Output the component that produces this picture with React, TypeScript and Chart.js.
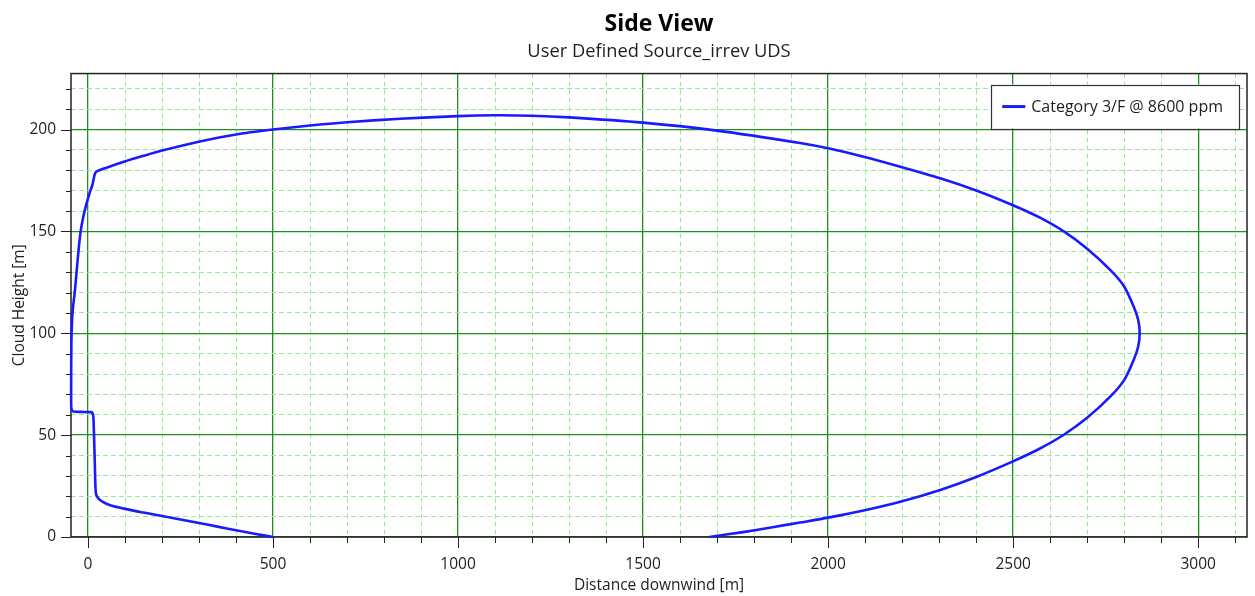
import React, { useEffect, useRef } from 'react';
import { Chart, registerables } from 'chart.js';

Chart.register(...registerables);

const TITLE = 'Side View';
const SUBTITLE = 'User Defined Source_irrev UDS';
const SERIES_LABEL = 'Category 3/F @ 8600 ppm';
const X_TITLE = 'Distance downwind [m]';
const Y_TITLE = 'Cloud Height [m]';

// Cloud contour, distance downwind [m]
const distance = [
  500, 450, 400, 350, 300, 250, 200, 150, 100, 60, 40, 28, 22,
  20, 18.5, 17, 15, 14, 11, 8, -20, -40, -44, -45.5, -45.5, -45, -43.5, -41, -36, -31, -26, -20, -13, -5, 4, 12, 18, 22.7,
  50, 99, 150, 200, 302, 400, 500, 600, 700, 843, 1000, 1100, 1200, 1300, 1500, 1700, 1924, 2000, 2096, 2195,
  2303, 2402, 2498, 2570, 2637, 2700, 2763, 2800, 2826, 2838, 2842, 2838, 2826, 2800, 2763, 2700, 2637, 2570,
  2498, 2402, 2303, 2195, 2096, 2000, 1924, 1850, 1770, 1679,
];
// Cloud contour, height [m]
const cloudHeight = [
  0, 1.6, 3.3, 5.1, 6.9, 8.6, 10.3, 12.0, 13.8, 15.6, 17.2, 19.0, 20.8,
  25, 35, 45, 57, 59.6, 61.1, 61.3, 61.4, 61.6, 62.5, 64.5, 80, 95, 105, 112, 120, 130, 140, 150, 157, 163, 168.7, 173, 178, 179.4,
  181.3, 184.3, 187.1, 189.7, 194.2, 197.6, 200, 202, 203.6, 205.3, 206.6, 207, 206.8, 206, 203.4, 199.5, 193.4, 190.8, 186.7, 181.8,
  176.1, 170, 163, 157, 150, 141.5, 131, 123, 113, 106.5, 100, 93.5, 87, 77, 69, 58.5, 50.2, 43.2,
  37, 29.6, 23.1, 17.3, 13.0, 9.5, 7.1, 4.8, 2.4, 0,
];

const X_MIN = -46;
const X_MAX = 3132;
const X_MINOR = 100;
const X_MAJOR = 500;
const Y_MIN = 0;
const Y_MAX = 227.5;
const Y_MINOR = 10;
const Y_MAJOR = 50;

const FONT = "'Open Sans', 'Noto Sans', sans-serif";
const TEXT = '#1e1e1e';
const MAJOR_GRID = '#1f8f1f';
const MINOR_GRID = '#98ea98';
const LINE_COLOR = '#1a1aff';

const isMajor = (v: number, step: number) => Math.abs(v % step) < 1e-6;

const decorPlugin = {
  id: 'decor',
  beforeDatasetsDraw(chart: any) {
    const { ctx, chartArea: a, scales } = chart;
    const xs = scales.x;
    const ys = scales.y;
    ctx.save();
    ctx.strokeStyle = '#222';
    ctx.lineWidth = 1;
    ctx.beginPath();
    xs.ticks.forEach((t: any) => {
      const px = Math.round(xs.getPixelForValue(t.value)) + 0.5;
      const len = isMajor(t.value, X_MAJOR) ? 11 : 6;
      ctx.moveTo(px, a.bottom);
      ctx.lineTo(px, a.bottom + len);
    });
    ys.ticks.forEach((t: any) => {
      const py = Math.round(ys.getPixelForValue(t.value)) + 0.5;
      const len = isMajor(t.value, Y_MAJOR) ? 10 : 5;
      ctx.moveTo(a.left, py);
      ctx.lineTo(a.left - len, py);
    });
    ctx.stroke();
    ctx.lineWidth = 1.5;
    ctx.strokeStyle = '#222';
    ctx.strokeRect(a.left, a.top, a.right - a.left, a.bottom - a.top);
    ctx.restore();
  },
  afterDatasetsDraw(chart: any) {
    const { ctx, chartArea: a } = chart;
    const ds = chart.data.datasets[0];
    ctx.save();
    ctx.font = `16px ${FONT}`;
    const tw = ctx.measureText(ds.label).width;
    const w = 40 + tw + 16;
    const h = 44;
    const right = a.right - 8;
    const top = a.top + 11;
    const left = right - w;
    ctx.fillStyle = '#fff';
    ctx.fillRect(left, top, w, h);
    ctx.strokeStyle = '#333';
    ctx.lineWidth = 1.2;
    ctx.strokeRect(Math.round(left) + 0.5, Math.round(top) + 0.5, Math.round(w), h);
    const cy = top + h / 2;
    ctx.strokeStyle = ds.borderColor;
    ctx.lineWidth = 3;
    ctx.beginPath();
    ctx.moveTo(left + 11, cy);
    ctx.lineTo(left + 34, cy);
    ctx.stroke();
    ctx.fillStyle = TEXT;
    ctx.textBaseline = 'middle';
    ctx.textAlign = 'left';
    ctx.fillText(ds.label, left + 40, cy + 1);
    ctx.restore();
  },
};

export default function App() {
  const ref = useRef<HTMLCanvasElement | null>(null);

  useEffect(() => {
    if (!ref.current) return;
    Chart.defaults.font.family = FONT;
    Chart.defaults.color = TEXT;
    const points = distance.map((x, i) => ({ x, y: cloudHeight[i] }));
    const chart = new Chart(ref.current, {
      type: 'scatter',
      data: {
        datasets: [
          {
            label: SERIES_LABEL,
            data: points,
            showLine: true,
            borderColor: LINE_COLOR,
            backgroundColor: LINE_COLOR,
            borderWidth: 2.6,
            pointRadius: 0,
            pointHoverRadius: 0,
            tension: 0.25,
            clip: false as any,
          },
        ],
      },
      options: {
        animation: false,
        responsive: true,
        maintainAspectRatio: false,
        layout: { padding: { left: 0, right: 8, top: 0, bottom: 0 } },
        plugins: {
          legend: { display: false },
          tooltip: { enabled: false },
          title: {
            display: true,
            text: TITLE,
            fullSize: false,
            color: '#000',
            font: { size: 23, weight: 'bold', family: FONT, lineHeight: 1.2 },
            padding: { top: 11, bottom: 0 },
          },
          subtitle: {
            display: true,
            text: SUBTITLE,
            fullSize: false,
            color: TEXT,
            font: { size: 18.3, family: FONT, lineHeight: 1.2 },
            padding: { top: 2, bottom: 11 },
          },
        },
        scales: {
          x: {
            type: 'linear',
            min: X_MIN,
            max: X_MAX,
            afterFit: (s: any) => {
              s.height = 59;
            },
            ticks: {
              stepSize: X_MINOR,
              includeBounds: false,
              autoSkip: false,
              maxRotation: 0,
              padding: 18,
              font: { size: 15.5 },
              color: TEXT,
              callback: (v: any) => (isMajor(Number(v), X_MAJOR) ? String(v) : ''),
            },
            grid: {
              drawTicks: false,
              color: (c: any) => (c.tick && isMajor(c.tick.value, X_MAJOR) ? MAJOR_GRID : MINOR_GRID),
              lineWidth: (c: any) => (c.tick && isMajor(c.tick.value, X_MAJOR) ? 1.3 : 1),
            },
            border: {
              display: false,
              dash: (c: any) => (c.tick && !isMajor(c.tick.value, X_MAJOR) ? [5, 3] : []),
            } as any,
            title: {
              display: true,
              text: X_TITLE,
              color: TEXT,
              font: { size: 15.5, lineHeight: 1.2 },
              padding: { top: 0, bottom: 1 },
            },
          },
          y: {
            type: 'linear',
            min: Y_MIN,
            max: Y_MAX,
            afterFit: (s: any) => {
              s.width = 71;
            },
            ticks: {
              stepSize: Y_MINOR,
              includeBounds: false,
              autoSkip: false,
              padding: 15,
              font: { size: 15.5 },
              color: TEXT,
              callback: (v: any) => (isMajor(Number(v), Y_MAJOR) ? String(v) : ''),
            },
            grid: {
              drawTicks: false,
              color: (c: any) => (c.tick && isMajor(c.tick.value, Y_MAJOR) ? MAJOR_GRID : MINOR_GRID),
              lineWidth: (c: any) => (c.tick && isMajor(c.tick.value, Y_MAJOR) ? 1.3 : 1),
            },
            border: {
              display: false,
              dash: (c: any) => (c.tick && !isMajor(c.tick.value, Y_MAJOR) ? [5, 3] : []),
            } as any,
            title: {
              display: true,
              text: Y_TITLE,
              color: TEXT,
              font: { size: 15.5, lineHeight: 1.2 },
              padding: { top: 10, bottom: 0 },
            },
          },
        },
      },
      plugins: [decorPlugin],
    } as any);
    return () => chart.destroy();
  }, []);

  return (
    <div style={{ position: 'fixed', left: 0, top: 0, width: 1255, height: 596, background: '#fff' }}>
      <canvas ref={ref} />
    </div>
  );
}
